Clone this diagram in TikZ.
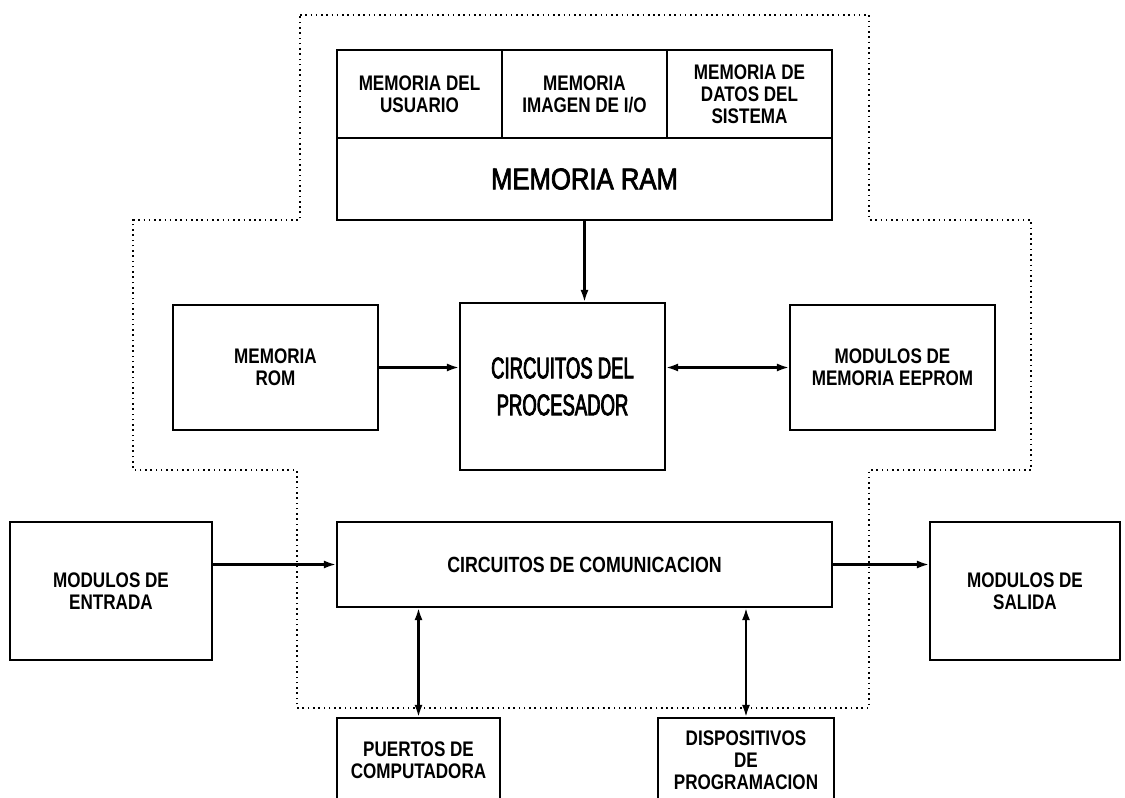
\documentclass[tikz,border=0pt]{standalone}
\usepackage{fontspec}
\setmainfont{Liberation Sans}[FakeStretch=0.81]
\newfontfamily\widefont{Liberation Sans}[FakeStretch=0.86,FakeBold=2.5]
\newfontfamily\narrowfont{Liberation Sans}[FakeStretch=0.62,FakeBold=2.5]
\usetikzlibrary{arrows.meta,positioning,calc}
\tikzset{
  block/.style={draw=black, line width=1.2pt, align=center, inner sep=2pt,
                font=\bfseries\fontsize{12}{12.5}\selectfont},
  arrow/.style={-{Latex[length=2.4mm,width=1.6mm]}, line width=1.15pt},
  biarrow/.style={{Latex[length=2.4mm,width=1.6mm]}-{Latex[length=2.4mm,width=1.6mm]},
                  line width=1.15pt},
  outline/.style={line width=1.1pt, dash pattern=on 0.9pt off 2.1pt},
}

\begin{document}
\begin{tikzpicture}[x=0.2mm,y=-0.2mm]
  \useasboundingbox (0,0) rectangle (1125,798);

  % controller boundary
  \draw[outline] (300,15) -- (869,15) -- (869,220) -- (1031,220) -- (1031,470)
        -- (869,470) -- (869,708) -- (297,708) -- (297,470) -- (133,470)
        -- (133,220) -- (300,220) -- cycle;

  % memoria RAM
  \node[block, minimum width=9.9cm, minimum height=1.64cm,
        font=\widefont\fontsize{17}{19}\selectfont] (ram) at (584.5,179) {MEMORIA RAM};
  \node[block, minimum width=3.3cm, minimum height=1.76cm] (usuario) at (419.5,94)
        {MEMORIA DEL\\USUARIO};
  \node[block, minimum width=3.3cm, minimum height=1.76cm] (imagen) at (584.5,94)
        {MEMORIA\\IMAGEN DE I/O};
  \node[block, minimum width=3.3cm, minimum height=1.76cm] (datos) at (749.5,94)
        {MEMORIA DE\\DATOS DEL\\SISTEMA};

  % processor row
  \node[block, minimum width=4.1cm, minimum height=3.34cm,
        font=\narrowfont\fontsize{17}{21}\selectfont] (proc) at (562.5,386.5)
        {CIRCUITOS DEL\\PROCESADOR};
  \node[block, minimum width=4.1cm, minimum height=2.5cm] (rom) at (275.5,367.5)
        {MEMORIA\\ROM};
  \node[block, minimum width=4.1cm, minimum height=2.5cm] (eeprom) at (892.5,367.5)
        {MODULOS DE\\MEMORIA EEPROM};

  % communication row
  \node[block, minimum width=9.9cm, minimum height=1.7cm,
        font=\bfseries\fontsize{12.5}{14}\selectfont] (comm) at (584.5,564.5)
        {CIRCUITOS DE COMUNICACION};
  \node[block, minimum width=4.04cm, minimum height=2.76cm] (entrada) at (111,591)
        {MODULOS DE\\ENTRADA};
  \node[block, minimum width=3.8cm, minimum height=2.76cm] (salida) at (1025,591)
        {MODULOS DE\\SALIDA};

  % bottom boxes (cut by the page edge)
  \node[block, minimum width=3.26cm, minimum height=1.7cm] (puertos) at (418.5,760.5)
        {PUERTOS DE\\COMPUTADORA};
  \node[block, minimum width=3.52cm, minimum height=1.7cm] (disp) at (746,760.5)
        {DISPOSITIVOS\\DE\\PROGRAMACION};

  % connections
  \draw[arrow] (ram.south) -- (ram.south |- proc.north);
  \draw[arrow] (rom.east) -- (rom.east -| proc.west);
  \draw[biarrow] (eeprom.west -| proc.east) -- (eeprom.west);
  \draw[arrow] (comm.west -| entrada.east) -- (comm.west);
  \draw[arrow] (comm.east) -- (comm.east -| salida.west);
  \draw[biarrow] (comm.south -| puertos.north) -- (puertos.north);
  \draw[biarrow] (comm.south -| disp.north) -- (disp.north);

\end{tikzpicture}
\end{document}
